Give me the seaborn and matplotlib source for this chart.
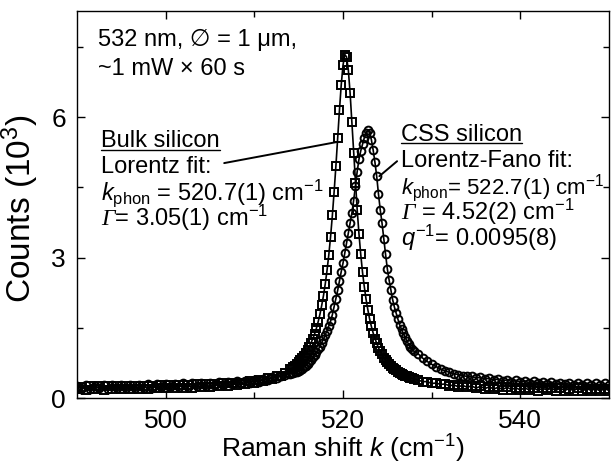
import matplotlib
matplotlib.use("Agg")
import matplotlib.pyplot as plt
import seaborn as sns
import pandas as pd

# ---------------- data (values in 10^3 counts) ----------------
x_low = [490.0, 490.5, 491.0, 491.5, 492.0, 492.5, 493.0, 493.5, 494.0, 494.5,
         495.0, 495.5, 496.0, 496.5, 497.0, 497.5, 498.0, 498.5, 499.0, 499.5,
         500.0, 500.5, 501.0, 501.5, 502.0, 502.5, 503.0, 503.5, 504.0, 504.5,
         505.0, 505.5, 506.0, 506.5, 507.0, 507.5, 508.0, 508.5, 509.0, 509.5,
         510.0, 510.5, 511.0, 511.5, 512.0, 512.5, 513.0, 513.5]
x_mid = [514.0, 514.2, 514.4, 514.6, 514.8, 515.0, 515.2, 515.4, 515.6, 515.8,
         516.0, 516.2, 516.4, 516.6, 516.8, 517.0, 517.2, 517.4, 517.6, 517.8,
         518.0, 518.2, 518.4, 518.6, 518.8, 519.0, 519.2, 519.4, 519.6, 519.8,
         520.0, 520.2, 520.4, 520.6, 520.8, 521.0, 521.2, 521.4, 521.6, 521.8,
         522.0, 522.2, 522.4, 522.6, 522.8, 523.0, 523.2, 523.4, 523.6, 523.8,
         524.0, 524.2, 524.4, 524.6, 524.8, 525.0, 525.2, 525.4, 525.6, 525.8,
         526.0, 526.2, 526.4, 526.6, 526.8, 527.0, 527.2, 527.4, 527.6, 527.8,
         528.0]
x_high = [528.5, 529.0, 529.5, 530.0, 530.5, 531.0, 531.5, 532.0, 532.5, 533.0,
          533.5, 534.0, 534.5, 535.0, 535.5, 536.0, 536.5, 537.0, 537.5, 538.0,
          538.5, 539.0, 539.5, 540.0, 540.5, 541.0, 541.5, 542.0, 542.5, 543.0,
          543.5, 544.0, 544.5, 545.0, 545.5, 546.0, 546.5, 547.0, 547.5, 548.0,
          548.5, 549.0, 549.5, 550.0]

bulk_low = [0.19, 0.24, 0.18, 0.25, 0.19, 0.25, 0.18, 0.26, 0.19, 0.25,
            0.20, 0.26, 0.19, 0.25, 0.20, 0.26, 0.20, 0.26, 0.21, 0.27,
            0.21, 0.27, 0.21, 0.28, 0.22, 0.28, 0.22, 0.29, 0.23, 0.29,
            0.24, 0.30, 0.25, 0.31, 0.26, 0.32, 0.28, 0.33, 0.30, 0.36,
            0.33, 0.38, 0.36, 0.42, 0.41, 0.47, 0.47, 0.54]
bulk_mid = [0.61, 0.63, 0.66, 0.69, 0.73, 0.76, 0.81, 0.85, 0.90, 0.96,
            1.02, 1.10, 1.18, 1.27, 1.37, 1.49, 1.63, 1.79, 1.98, 2.19,
            2.44, 2.73, 3.06, 3.45, 3.90, 4.41, 4.96, 5.56, 6.15, 6.69,
            7.11, 7.34, 7.29, 7.01, 6.52, 5.89, 5.23, 4.60, 4.02, 3.51,
            3.07, 2.69, 2.38, 2.11, 1.89, 1.69, 1.53, 1.39, 1.27, 1.17,
            1.07, 1.00, 0.93, 0.86, 0.81, 0.76, 0.72, 0.68, 0.65, 0.61,
            0.59, 0.56, 0.54, 0.52, 0.50, 0.48, 0.46, 0.45, 0.43, 0.42,
            0.41]
bulk_high = [0.38, 0.35, 0.35, 0.31, 0.32, 0.29, 0.30, 0.26, 0.28, 0.24,
             0.27, 0.23, 0.26, 0.21, 0.25, 0.20, 0.24, 0.19, 0.23, 0.18,
             0.23, 0.18, 0.22, 0.17, 0.22, 0.17, 0.22, 0.16, 0.21, 0.17,
             0.21, 0.16, 0.21, 0.16, 0.20, 0.16, 0.21, 0.15, 0.20, 0.16,
             0.20, 0.15, 0.20, 0.16]

css_low = [0.26, 0.20, 0.27, 0.20, 0.26, 0.21, 0.27, 0.20, 0.27, 0.21,
           0.28, 0.21, 0.28, 0.22, 0.28, 0.22, 0.29, 0.22, 0.29, 0.23,
           0.30, 0.23, 0.30, 0.24, 0.31, 0.24, 0.32, 0.25, 0.32, 0.26,
           0.33, 0.27, 0.34, 0.28, 0.35, 0.29, 0.36, 0.31, 0.37, 0.33,
           0.39, 0.35, 0.41, 0.38, 0.44, 0.42, 0.47, 0.49]
css_mid = [0.52, 0.53, 0.54, 0.55, 0.56, 0.58, 0.60, 0.63, 0.66, 0.69,
           0.73, 0.77, 0.82, 0.87, 0.92, 0.98, 1.04, 1.10, 1.18, 1.26,
           1.35, 1.44, 1.54, 1.64, 1.78, 1.95, 2.12, 2.30, 2.50, 2.70,
           2.88, 3.10, 3.31, 3.52, 3.74, 3.95, 4.22, 4.52, 4.84, 5.10,
           5.28, 5.42, 5.56, 5.67, 5.73, 5.66, 5.52, 5.30, 5.04, 4.74,
           4.36, 4.02, 3.74, 3.40, 3.07, 2.76, 2.52, 2.31, 2.10, 1.94,
           1.81, 1.68, 1.56, 1.47, 1.38, 1.30, 1.22, 1.15, 1.09, 1.04,
           1.00]
css_high = [0.94, 0.85, 0.78, 0.72, 0.67, 0.62, 0.58, 0.55, 0.52, 0.50,
            0.48, 0.46, 0.46, 0.43, 0.44, 0.41, 0.42, 0.38, 0.41, 0.36,
            0.39, 0.35, 0.38, 0.34, 0.37, 0.32, 0.36, 0.32, 0.35, 0.30,
            0.34, 0.30, 0.33, 0.29, 0.33, 0.28, 0.32, 0.28, 0.32, 0.27,
            0.31, 0.27, 0.31, 0.27]

x_ticks = [500, 520, 540]
y_ticks = [0, 3, 6]
y_tick_labels = ["0", "3", "6"]

bulk_df = pd.DataFrame({"k": x_low + x_mid + x_high,
                        "counts": bulk_low + bulk_mid + bulk_high})
css_df = pd.DataFrame({"k": x_low + x_mid + x_high,
                       "counts": css_low + css_mid + css_high})

# ---------------- style ----------------
sns.set_style("ticks")
plt.rcParams["font.family"] = ["Liberation Sans", "DejaVu Sans"]
plt.rcParams["mathtext.fontset"] = "custom"
plt.rcParams["mathtext.rm"] = "Liberation Sans"
plt.rcParams["mathtext.it"] = "Liberation Sans:italic"
plt.rcParams["mathtext.bf"] = "Liberation Sans:bold"
plt.rcParams["mathtext.cal"] = "Liberation Serif:italic"
plt.rcParams["axes.linewidth"] = 1.0
plt.rcParams["text.color"] = "black"
plt.rcParams["axes.labelcolor"] = "black"
plt.rcParams["xtick.color"] = "black"
plt.rcParams["ytick.color"] = "black"

W, H = 611, 466
fig = plt.figure(figsize=(W / 100, H / 100), dpi=100)
ax = fig.add_axes([77 / W, (H - 398) / H, 532 / W, 387 / H])

mk = dict(markerfacecolor="none", markeredgecolor="black",
          markeredgewidth=1.4, linewidth=1.2)
sns.lineplot(data=bulk_df, x="k", y="counts", ax=ax, color="black",
             marker="s", markersize=5.2, estimator=None, **mk)
sns.lineplot(data=css_df, x="k", y="counts", ax=ax, color="black",
             marker="o", markersize=5.6, estimator=None, **mk)

ax.set_xlim(490, 550)
ax.set_ylim(0, 8.27)
ax.set_xticks(x_ticks)
ax.set_xticks([510, 530], minor=True)
ax.set_yticks(y_ticks)
ax.set_yticklabels(y_tick_labels)
ax.set_yticks([1.5, 4.5, 7.5], minor=True)
ax.tick_params(which="both", direction="in", top=True, right=True,
               width=1.0, colors="black", labelsize=19, pad=8)
ax.tick_params(which="major", length=6)
ax.tick_params(which="minor", length=4)
for s in ax.spines.values():
    s.set_color("black")
    s.set_linewidth(1.0)

ax.set_xlabel("Raman shift $k$ (cm$^{-1}$)", fontsize=19, labelpad=0)
ax.set_ylabel("Counts (10$^{3}$)", fontsize=24)
ax.yaxis.set_label_coords(-0.068, 0.49)

fs = 17
# top-left conditions
ax.text(492.4, 7.52, "532 nm, \u2205 = 1 \u03bcm,", fontsize=fs, va="baseline")
ax.text(492.4, 6.90, "~1 mW \u00d7 60 s", fontsize=fs, va="baseline")

# bulk block
t_bulk = ax.text(492.7, 5.36, "Bulk silicon", fontsize=fs, va="baseline")
ax.text(492.7, 4.80, "Lorentz fit:", fontsize=fs, va="baseline")
ax.text(492.7, 4.23, "$k_{\\mathrm{phon}}$ = 520.7(1) cm$^{-1}$", fontsize=fs, va="baseline")
ax.text(492.7, 3.67, "$\\mathcal{\u0393}$= 3.05(1) cm$^{-1}$", fontsize=fs, va="baseline")

# CSS block
t_css = ax.text(526.5, 5.50, "CSS silicon", fontsize=fs, va="baseline")
ax.text(526.5, 4.94, "Lorentz-Fano fit:", fontsize=fs, va="baseline")
ax.text(526.5, 4.37, "$k_{\\mathrm{phon}}$= 522.7(1) cm$^{-1}$", fontsize=16.0, va="baseline")
ax.text(526.5, 3.80, "$\\mathcal{\u0393}$ = 4.52(2) cm$^{-1}$", fontsize=fs, va="baseline")
ax.text(526.5, 3.24, "$q^{-1}$= 0.0095(8)", fontsize=fs, va="baseline")

# leader lines
ax.plot([506.6, 519.3], [5.02, 5.47], color="black", lw=1.4, zorder=1)
ax.plot([526.1, 524.1], [5.06, 4.74], color="black", lw=1.4, zorder=1)

# underlines
fig.canvas.draw()
r = fig.canvas.get_renderer()
inv = ax.transData.inverted()
for t in (t_bulk, t_css):
    bb = t.get_window_extent(r)
    bx, by = ax.transData.transform(t.get_position())
    (x0, y0) = inv.transform((bb.x0, by - 2.5))
    (x1, _) = inv.transform((bb.x1, by - 2.5))
    ax.plot([x0, x1], [y0, y0], color="black", lw=1.0, zorder=1)

fig.savefig("out.png", dpi=100)
